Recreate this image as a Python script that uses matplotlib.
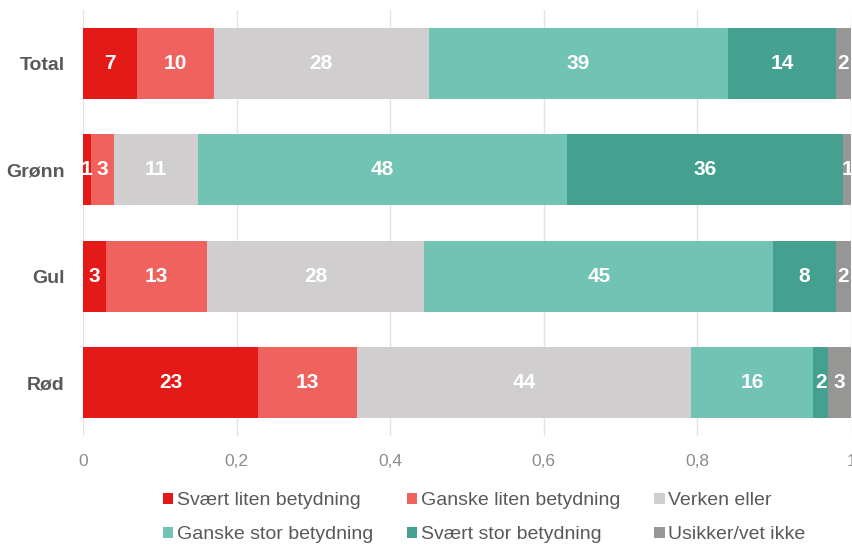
import numpy as np
import matplotlib.pyplot as plt

plt.rcParams['font.family'] = ['Liberation Sans', 'DejaVu Sans']

# Svar per gruppe (prosent)
groups = ['Total', 'Grønn', 'Gul', 'Rød']
categories = ['Svært liten betydning', 'Ganske liten betydning', 'Verken eller',
              'Ganske stor betydning', 'Svært stor betydning', 'Usikker/vet ikke']
svaert_liten = [7, 1, 3, 23]
ganske_liten = [10, 3, 13, 13]
verken = [28, 11, 28, 44]
ganske_stor = [39, 48, 45, 16]
svaert_stor = [14, 36, 8, 2]
usikker = [2, 1, 2, 3]
colors = ['#E31A17', '#F0625E', '#D0CECE', '#71C3B3', '#45A18F', '#969795']

values = np.array([svaert_liten, ganske_liten, verken, ganske_stor, svaert_stor, usikker], dtype=float)
shares = values / values.sum(axis=0)

fig = plt.figure(figsize=(8.53, 5.45), dpi=100)
ax = fig.add_axes([0.0973, 0.2, 0.9004, 0.7817])

y = np.arange(len(groups))
left = np.zeros(len(groups))
for i, name in enumerate(categories):
    ax.barh(y, shares[i], left=left, height=0.67, color=colors[i], label=name, zorder=3)
    for j in range(len(groups)):
        ax.text(left[j] + shares[i, j] / 2, y[j], f"{int(values[i, j])}",
                ha='center', va='center', color='white', fontsize=15,
                fontweight='bold', zorder=4)
    left += shares[i]

ax.set_xlim(0, 1)
ax.set_ylim(3.5, -0.5)
ax.set_yticks(y)
ax.set_yticklabels(groups, fontsize=14, fontweight='bold', color='#595959')
ax.set_xticks([0, 0.2, 0.4, 0.6, 0.8, 1])
ax.set_xticklabels(['0', '0,2', '0,4', '0,6', '0,8', '1'], fontsize=12.5, color='#8c8c8c')
ax.tick_params(length=0)
ax.tick_params(axis='x', pad=13)
ax.tick_params(axis='y', pad=13)
ax.grid(axis='x', color='#e3e3e3', linewidth=1, zorder=0)
for s in ax.spines.values():
    s.set_visible(False)

# legend filled row by row
handles, labels = ax.get_legend_handles_labels()
order = [0, 3, 1, 4, 2, 5]
fig.legend([handles[k] for k in order], [labels[k] for k in order],
           loc='lower left', bbox_to_anchor=(0.1817, -0.011), ncol=3, frameon=False,
           borderaxespad=0, fontsize=14, handlelength=0.52, handleheight=0.52,
           handletextpad=0.2, columnspacing=1.75, labelspacing=0.86,
           labelcolor='#595959')

fig.savefig('out.png', dpi=100)
